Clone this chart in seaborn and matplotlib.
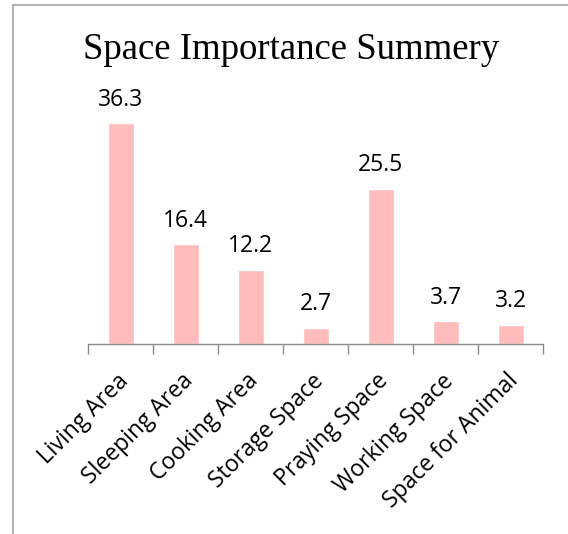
import matplotlib
matplotlib.use("Agg")
import matplotlib.pyplot as plt
from matplotlib.lines import Line2D
from matplotlib.transforms import ScaledTranslation
import seaborn as sns
import pandas as pd

categories = ["Living Area", "Sleeping Area", "Cooking Area", "Storage Space",
              "Praying Space", "Working Space", "Space for Animal"]
values = [36.3, 16.4, 12.2, 2.7, 25.5, 3.7, 3.2]
title = "Space Importance Summery"

df = pd.DataFrame({"cat": categories, "val": values})

sns.set_style("white")
plt.rcParams['font.family'] = ['Open Sans', 'DejaVu Sans']
plt.rcParams['text.color'] = 'black'
plt.rcParams['xtick.color'] = 'black'

W, H = 568, 534
fig = plt.figure(figsize=(W/100, H/100), dpi=100)
ax = fig.add_axes([88/W, 1-344/H, (543-88)/W, (344-100.4)/H])

sns.barplot(data=df, x="cat", y="val", color="#FFBCBC", width=0.4, ax=ax,
            saturation=1)
ax.set_ylim(0, 40)
ax.set_xlim(-0.5, len(categories)-0.5)
for s in ["top", "right", "left"]:
    ax.spines[s].set_visible(False)
ax.spines["bottom"].set_color("#8C8C8C")
ax.spines["bottom"].set_linewidth(1)
ax.set_yticks([])
ax.set_xlabel("")
ax.set_ylabel("")
ax.set_xticks([i for i in range(len(categories))])
ax.set_xticklabels(categories, rotation=45, ha="right", va="top",
                   rotation_mode="anchor", fontsize=16.5, color="black")
ax.tick_params(axis="x", which="major", length=0, pad=18, bottom=True)
# minor ticks between categories
ax.set_xticks([i - 0.5 for i in range(len(categories)+1)], minor=True)
ax.tick_params(axis="x", which="minor", length=7, color="#8C8C8C", width=1,
               direction="out", bottom=True)
shift = ScaledTranslation(-4/100, 0, fig.dpi_scale_trans)
for lbl in ax.get_xticklabels():
    lbl.set_transform(lbl.get_transform() + shift)

for i, v in enumerate(values):
    ax.annotate(f"{v}", (i, v), xytext=(0, 12.5), textcoords="offset points",
                ha="center", va="baseline", fontsize=16.5, color="black")

fig.text(291/W, 1-59/H, title, ha="center", va="baseline",
         fontsize=26.5, family="Liberation Serif", color="black")

# outer chart border (partially visible)
fig.add_artist(Line2D([13/W, 13/W], [0, 1-5/H], color="#A6A6A6", lw=1.2,
                      transform=fig.transFigure))
fig.add_artist(Line2D([13/W, 1], [1-5/H, 1-5/H], color="#A6A6A6", lw=1.2,
                      transform=fig.transFigure))

fig.savefig("out.png", dpi=100)
